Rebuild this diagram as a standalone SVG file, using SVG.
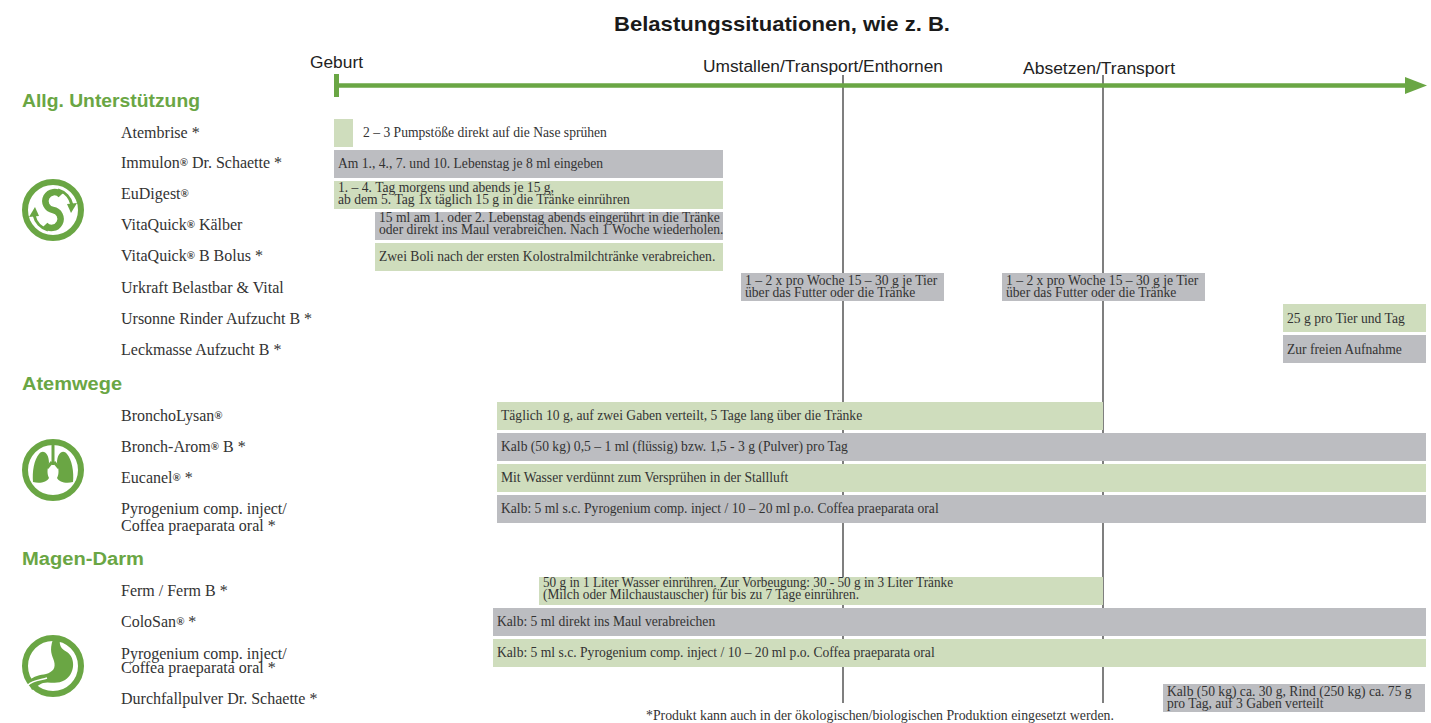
<svg xmlns="http://www.w3.org/2000/svg" width="1431" height="723" viewBox="0 0 1431 723">
<style>
.lbl{font-family:"Liberation Serif","Times New Roman",serif;font-size:16px;fill:#333}
.bt{font-family:"Liberation Serif","Times New Roman",serif;font-size:13.6px;fill:#333}
.r{font-size:11px;font-weight:bold}
.g{fill:#cfddbd}
.k{fill:#bcbdc1}
.h{font-family:"Liberation Sans",Arial,sans-serif;font-weight:bold;font-size:18px;fill:#6aa644}
.ev{font-family:"Liberation Sans",Arial,sans-serif;font-size:16px;fill:#222}
.vl{stroke:#555;stroke-width:1.5;fill:none}
.ring{fill:none;stroke:#6aa644;stroke-width:6}
.gf{fill:#6aa644}
</style>
<rect width="1431" height="723" fill="#fff"/>
<text x="782" y="31" text-anchor="middle" textLength="336" lengthAdjust="spacingAndGlyphs" style="font-family:'Liberation Sans',Arial,sans-serif;font-weight:bold;font-size:21px;fill:#1a1a1a">Belastungssituationen, wie z. B.</text>

<g id="connectors">
<line class="vl" x1="843" y1="75" x2="843" y2="703"/>
<line class="vl" x1="1103" y1="75" x2="1103" y2="703"/>
<line x1="336" y1="85.5" x2="1408" y2="85.5" stroke="#6aa644" stroke-width="4.5"/>
<rect x="334" y="74" width="5" height="23" class="gf"/>
<polygon points="1405,77 1427,85.5 1405,94" class="gf"/>
</g>

<g id="timeline-labels">
<text class="ev" x="310" y="68" textLength="53" lengthAdjust="spacingAndGlyphs">Geburt</text>
<text class="ev" x="703" y="72" textLength="240" lengthAdjust="spacingAndGlyphs">Umstallen/Transport/Enthornen</text>
<text class="ev" x="1023" y="74" textLength="152" lengthAdjust="spacingAndGlyphs">Absetzen/Transport</text>
</g>

<g id="headings">
<text class="h" x="22" y="107" textLength="178" lengthAdjust="spacingAndGlyphs">Allg. Unterstützung</text>
<text class="h" x="22" y="390" textLength="100" lengthAdjust="spacingAndGlyphs">Atemwege</text>
<text class="h" x="22" y="565" textLength="122" lengthAdjust="spacingAndGlyphs">Magen-Darm</text>
</g>

<g id="icon-swirl" transform="translate(53,210)">
<circle class="ring" r="28"/>
<path d="M 8,-15 A 9 9 0 1 0 0 0 A 9 9 0 1 1 -8 15" fill="none" stroke="#6aa644" stroke-width="6.5"/>
<path d="M 5,-20 A 20 20 0 0 1 19,-5" fill="none" stroke="#6aa644" stroke-width="3"/>
<polygon points="14,-6 24,-7 18,3" class="gf"/>
<path d="M -5,20 A 20 20 0 0 1 -19,5" fill="none" stroke="#6aa644" stroke-width="3"/>
<polygon points="-14,6 -24,7 -18,-3" class="gf"/>
</g>

<g id="icon-lungs" transform="translate(53,470)">
<circle class="ring" r="28"/>
<rect x="-1.5" y="-25" width="3" height="20" class="gf"/>
<path d="M -1,-8 L -6,-2" stroke="#6aa644" stroke-width="3" fill="none"/>
<path d="M 1,-8 L 6,-2" stroke="#6aa644" stroke-width="3" fill="none"/>
<path class="gf" d="M -4,-7 C -4,-17 -10,-21 -14,-16 C -19,-10 -21,2 -20,12 C -13,14 -6,12 -4,8 C -6,4 -6,0 -4,-7 Z"/>
<path class="gf" d="M 4,-7 C 4,-17 10,-21 14,-16 C 19,-10 21,2 20,12 C 13,14 6,12 4,8 C 6,4 6,0 4,-7 Z"/>
</g>

<g id="icon-stomach" transform="translate(53,666)">
<circle class="ring" r="28"/>
<path class="gf" d="M 0,-27 L 7,-27 C 6,-21 8,-17 14,-14 C 23,-8 22,8 12,14 C 4,19 -4,15 -10,17 C -15,19 -19,23 -21,24 L -25,15 C -19,10 -13,9 -7,8 C 0,6 3,2 1,-5 C -1,-11 -4,-15 0,-27 Z"/>
<path d="M -25,19 C -20,14 -12,14 -6,12" stroke="#fff" stroke-width="1.5" fill="none"/>
</g>

<g id="row-atembrise">
<text class="lbl" x="121" y="138">Atembrise *</text>
<rect class="g" x="334" y="119" width="19" height="28"/>
<text class="bt" x="363" y="137">2 – 3 Pumpstöße direkt auf die Nase sprühen</text>
</g>
<g id="row-immulon">
<text class="lbl" x="121" y="168">Immulon<tspan class="r" dy="-2">®</tspan><tspan dy="2"> Dr. Schaette *</tspan></text>
<rect class="k" x="334" y="150" width="389" height="28"/>
<text class="bt" x="338" y="168">Am 1., 4., 7. und 10. Lebenstag je 8 ml eingeben</text>
</g>
<g id="row-eudigest">
<text class="lbl" x="121" y="199">EuDigest<tspan class="r" dy="-2">®</tspan></text>
<rect class="g" x="334" y="181" width="389" height="28"/>
<text class="bt" x="338" y="192">1. – 4. Tag morgens und abends je 15 g,</text>
<text class="bt" x="338" y="204">ab dem 5. Tag 1x täglich 15 g in die Tränke einrühren</text>
</g>
<g id="row-vitaquick-kaelber">
<text class="lbl" x="121" y="230">VitaQuick<tspan class="r" dy="-2">®</tspan><tspan dy="2"> Kälber</tspan></text>
<rect class="k" x="375" y="212" width="348" height="28"/>
<text class="bt" x="379" y="222">15 ml am 1. oder 2. Lebenstag abends eingerührt in die Tränke</text>
<text class="bt" x="379" y="234">oder direkt ins Maul verabreichen. Nach 1 Woche wiederholen.</text>
</g>
<g id="row-vitaquick-bolus">
<text class="lbl" x="121" y="261">VitaQuick<tspan class="r" dy="-2">®</tspan><tspan dy="2"> B Bolus *</tspan></text>
<rect class="g" x="375" y="243" width="348" height="28"/>
<text class="bt" x="379" y="261">Zwei Boli nach der ersten Kolostralmilchtränke verabreichen.</text>
</g>
<g id="row-urkraft">
<text class="lbl" x="121" y="293">Urkraft Belastbar &amp; Vital</text>
<rect class="k" x="741" y="273" width="203" height="28"/>
<text class="bt" x="745" y="285">1 – 2 x pro Woche 15 – 30 g je Tier</text>
<text class="bt" x="745" y="297">über das Futter oder die Tränke</text>
<rect class="k" x="1002" y="273" width="203" height="28"/>
<text class="bt" x="1006" y="285">1 – 2 x pro Woche 15 – 30 g je Tier</text>
<text class="bt" x="1006" y="297">über das Futter oder die Tränke</text>
</g>
<g id="row-ursonne">
<text class="lbl" x="121" y="324">Ursonne Rinder Aufzucht B *</text>
<rect class="g" x="1283" y="304" width="143" height="28"/>
<text class="bt" x="1287" y="323">25 g pro Tier und Tag</text>
</g>
<g id="row-leckmasse">
<text class="lbl" x="121" y="355">Leckmasse Aufzucht B *</text>
<rect class="k" x="1283" y="335" width="143" height="28"/>
<text class="bt" x="1287" y="354">Zur freien Aufnahme</text>
</g>

<g id="row-broncholysan">
<text class="lbl" x="121" y="421">BronchoLysan<tspan class="r" dy="-2">®</tspan></text>
<rect class="g" x="497" y="402" width="606" height="28"/>
<text class="bt" x="501" y="420">Täglich 10 g, auf zwei Gaben verteilt, 5 Tage lang über die Tränke</text>
</g>
<g id="row-bronch-arom">
<text class="lbl" x="121" y="452">Bronch-Arom<tspan class="r" dy="-2">®</tspan><tspan dy="2"> B *</tspan></text>
<rect class="k" x="497" y="433" width="929" height="28"/>
<text class="bt" x="501" y="451">Kalb (50 kg) 0,5 – 1 ml (flüssig) bzw. 1,5 - 3 g (Pulver) pro Tag</text>
</g>
<g id="row-eucanel">
<text class="lbl" x="121" y="483">Eucanel<tspan class="r" dy="-2">®</tspan><tspan dy="2"> *</tspan></text>
<rect class="g" x="497" y="464" width="929" height="28"/>
<text class="bt" x="501" y="482">Mit Wasser verdünnt zum Versprühen in der Stallluft</text>
</g>
<g id="row-pyrogenium-1">
<text class="lbl" x="121" y="514">Pyrogenium comp. inject/</text>
<text class="lbl" x="121" y="531">Coffea praeparata oral *</text>
<rect class="k" x="497" y="495" width="929" height="28"/>
<text class="bt" x="501" y="513">Kalb: 5 ml s.c. Pyrogenium comp. inject / 10 – 20 ml p.o. Coffea praeparata oral</text>
</g>

<g id="row-ferm">
<text class="lbl" x="121" y="596">Ferm / Ferm B *</text>
<rect class="g" x="539" y="577" width="564" height="28"/>
<text class="bt" x="543" y="587" textLength="410" lengthAdjust="spacingAndGlyphs">50 g in 1 Liter Wasser einrühren. Zur Vorbeugung: 30 - 50 g in 3 Liter Tränke</text>
<text class="bt" x="543" y="599" textLength="316" lengthAdjust="spacingAndGlyphs">(Milch oder Milchaustauscher) für bis zu 7 Tage einrühren.</text>
</g>
<g id="row-colosan">
<text class="lbl" x="121" y="627">ColoSan<tspan class="r" dy="-2">®</tspan><tspan dy="2"> *</tspan></text>
<rect class="k" x="493" y="608" width="933" height="28"/>
<text class="bt" x="497" y="626">Kalb: 5 ml direkt ins Maul verabreichen</text>
</g>
<g id="row-pyrogenium-2">
<text class="lbl" x="121" y="659">Pyrogenium comp. inject/</text>
<text class="lbl" x="121" y="673">Coffea praeparata oral *</text>
<rect class="g" x="493" y="639" width="933" height="28"/>
<text class="bt" x="497" y="657">Kalb: 5 ml s.c. Pyrogenium comp. inject / 10 – 20 ml p.o. Coffea praeparata oral</text>
</g>
<g id="row-durchfallpulver">
<text class="lbl" x="121" y="704">Durchfallpulver Dr. Schaette *</text>
<rect class="k" x="1163" y="684" width="262" height="28"/>
<text class="bt" x="1167" y="696">Kalb (50 kg) ca. 30 g, Rind (250 kg) ca. 75 g</text>
<text class="bt" x="1167" y="708">pro Tag, auf 3 Gaben verteilt</text>
</g>

<text x="646" y="720" class="bt" style="font-size:13.8px">*Produkt kann auch in der ökologischen/biologischen Produktion eingesetzt werden.</text>
</svg>
